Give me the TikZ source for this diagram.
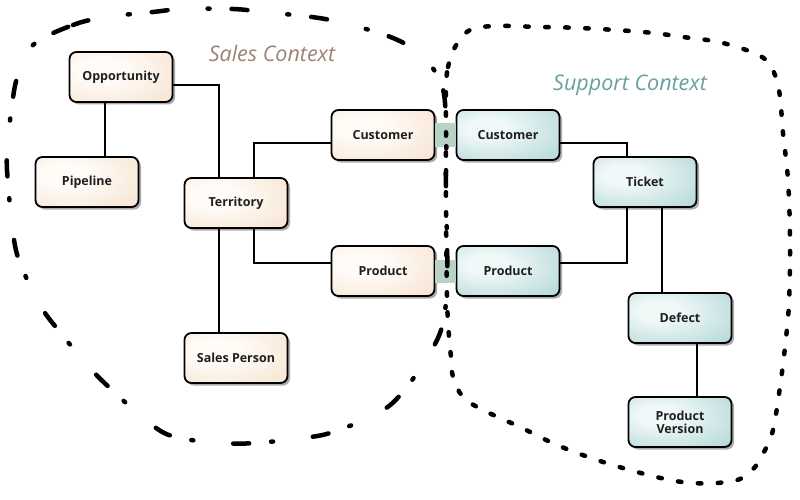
\documentclass[tikz,border=0pt]{standalone}
\usepackage{fontspec}
\setmainfont{Open Sans}
\usetikzlibrary{shadows,calc}
\definecolor{salesout}{HTML}{F1D3B6}
\definecolor{salesin}{HTML}{FFFBF7}
\definecolor{suppout}{HTML}{8CC3C1}
\definecolor{suppin}{HTML}{F0F8F8}
\definecolor{bandcol}{HTML}{B9D2C6}
\definecolor{salestitle}{HTML}{9E8272}
\definecolor{supptitle}{HTML}{6A9F9D}
\pgfdeclareradialshading{salessh}{\pgfpoint{-12bp}{8bp}}{color(0bp)=(salesin); color(12bp)=(salesin); color(62bp)=(salesout); color(80bp)=(salesout)}
\pgfdeclareradialshading{suppsh}{\pgfpoint{-12bp}{8bp}}{color(0bp)=(suppin); color(10bp)=(suppin); color(62bp)=(suppout); color(80bp)=(suppout)}
\tikzset{
  box/.style={draw=black, line width=1.8pt, rounded corners=7pt,
    minimum width=103pt, minimum height=50pt, inner sep=2pt,
    font=\bfseries\fontsize{12.5}{15}\selectfont, text=black!88, align=center,
    drop shadow={shadow xshift=2.5pt, shadow yshift=-2.5pt, opacity=0.5, fill=black!65}},
  salesbox/.style={box, shading=salessh},
  suppbox/.style={box, shading=suppsh},
  link/.style={draw=black, line width=1.4pt},
  band/.style={draw=bandcol, line width=23pt},
  salesline/.style={draw=black, line width=4.5pt, line cap=round,
    dash pattern=on 16pt off 40pt on 2pt off 22pt},
  suppline/.style={draw=black, line width=4.5pt, line cap=round,
    dash pattern=on 3.5pt off 16.5pt},
  title/.style={font=\itshape\fontsize{21.5}{26}\selectfont}
}
\begin{document}
\begin{tikzpicture}[x=1pt,y=-1pt]
\useasboundingbox[fill=white] (0,0) rectangle (800,500);

% nodes
\node[salesbox] (opp)  at (121,77)  {Opportunity};
\node[salesbox] (pipe) at (87,182)  {Pipeline};
\node[salesbox] (terr) at (236,203) {Territory};
\node[salesbox] (sp)   at (236,358) {Sales Person};
\node[salesbox] (cust1) at (383,135) {Customer};
\node[salesbox] (prod1) at (383,271) {Product};
\node[suppbox] (cust2) at (508,135) {Customer};
\node[suppbox] (prod2) at (508,271) {Product};
\node[suppbox] (tick) at (645,182) {Ticket};
\node[suppbox] (def)  at (680,318) {Defect};
\node[suppbox] (pv)   at (680,422) {Product\\[-2pt]Version};

% bands between contexts
\draw[band] (cust1.east) -- (cust2.west);
\draw[band] (prod1.east) -- (prod2.west);

% connectors
\draw[link] ([xshift=-16pt]opp.south) -- ([xshift=-16pt]opp.south |- pipe.north);
\draw[link] ([yshift=-8pt]opp.east) -| ([xshift=-17pt]terr.north);
\draw[link] ([xshift=18pt]terr.north) |- ([yshift=-8pt]cust1.west);
\draw[link] ([xshift=18pt]terr.south) |- ([yshift=8pt]prod1.west);
\draw[link] ([xshift=-17pt]terr.south) -- ([xshift=-17pt]sp.north);
\draw[link] ([yshift=-8pt]cust2.east) -| ([xshift=-18pt]tick.north);
\draw[link] ([xshift=-18pt]tick.south) |- ([yshift=8pt]prod2.east);
\draw[link] ([xshift=17pt]tick.south) -- ([xshift=17pt]tick.south |- def.north);
\draw[link] ([xshift=17pt]def.south) -- ([xshift=17pt]pv.north);

% context boundaries
\draw[salesline] plot[smooth cycle, tension=0.6] coordinates {
 (33,45) (73,25) (107,17) (153,12) (183,9) (233,9) (263,12) (312,17) (343,23)
 (388,36) (417,52) (440,80) (446,117) (446,167) (446,200) (447,240) (447,283)
 (443,323) (430,353) (402,393) (378,413) (333,432) (303,438) (255,443) (223,443)
 (175,437) (148,422) (112,390) (90,368) (59,331) (40,305) (20,263) (13,233)
 (8,183) (7,153) (12,105) (18,75)};
\draw[suppline] plot[smooth cycle, tension=0.6] coordinates {
 (446,88) (448,67) (455,47) (470,30) (497,26) (540,27) (580,28) (643,32) (683,37)
 (723,43) (762,57) (775,75) (780,97) (783,133) (788,180) (790,240) (789,303)
 (785,347) (780,387) (773,430) (765,450) (755,467) (740,479) (717,483) (693,483)
 (670,480) (637,472) (597,460) (557,445) (520,427) (483,410) (463,397) (453,377)
 (451,357) (449,337) (447,297) (446,200) (446,130)};

% titles
\node[title, text=salestitle] (salest) at (272,53) {Sales Context};
\node[title, text=supptitle] (suppt) at (630,85) {Support Context};
\end{tikzpicture}
\end{document}
